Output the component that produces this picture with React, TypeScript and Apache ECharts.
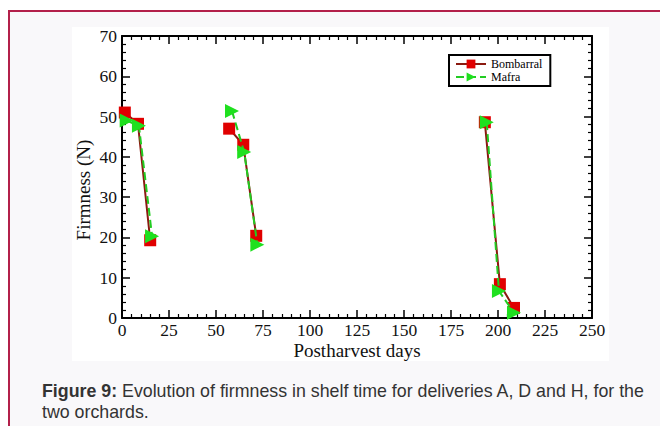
import React, { useEffect, useRef } from "react";
import * as echarts from "echarts";

const xTicks = { min: 0, max: 250, interval: 25 };
const yTicks = { min: 0, max: 70, interval: 10 };

const bombarralDays = [
  [1.5, 8.5, 15],
  [57, 64.5, 71.4],
  [193, 201, 208.5],
];
const bombarralFirmness = [
  [51, 48.2, 19.3],
  [47, 43, 20.4],
  [48.6, 8.4, 2.5],
];
const mafraDays = [
  [2.5, 9, 16],
  [58.5, 65, 72],
  [194, 200.5, 208.5],
];
const mafraFirmness = [
  [49, 47.7, 20.3],
  [51.4, 41.2, 18.2],
  [48.6, 6.7, 1.3],
];

const SERIF = "Liberation Serif";

function pairs(xs: number[], ys: number[]) {
  return xs.map((x, i) => [x, ys[i]]);
}

export default function App() {
  const ref = useRef<HTMLDivElement>(null);
  useEffect(() => {
    if (!ref.current) return;
    const chart = echarts.init(ref.current, null, { renderer: "svg" });
    const axisCommon = {
      axisLine: { show: true, onZero: false, lineStyle: { color: "#000", width: 2 } },
      axisTick: { show: true, inside: true, length: 8, lineStyle: { color: "#000", width: 1.5 } },
      minorTick: { show: true, splitNumber: 5, length: 4, lineStyle: { color: "#000", width: 1.2 } },
      splitLine: { show: false },
    };
    const labelStyle = { fontFamily: SERIF, fontSize: 17.5, color: "#111" };
    const series: any[] = [];
    bombarralDays.forEach((d, g) => {
      series.push({
        name: "Bombarral",
        type: "line",
        data: pairs(d, bombarralFirmness[g]),
        symbol: "rect",
        symbolSize: 12,
        itemStyle: { color: "#e00000" },
        lineStyle: { color: "#8b1a10", width: 2 },
        z: 2,
      });
    });
    mafraDays.forEach((d, g) => {
      series.push({
        name: "Mafra",
        type: "line",
        data: pairs(d, mafraFirmness[g]),
        symbol: "triangle",
        symbolRotate: -90,
        symbolSize: 14,
        itemStyle: { color: "#1fe01f" },
        lineStyle: { color: "#22cc22", width: 2, type: "dashed" },
        z: 3,
      });
    });
    chart.setOption({
      animation: false,
      textStyle: { fontFamily: SERIF },
      grid: { left: 122, top: 36, right: 68, bottom: 108, containLabel: false },
      legend: {
        data: ["Bombarral", "Mafra"],
        orient: "vertical",
        left: 449,
        top: 55,
        backgroundColor: "#fff",
        borderColor: "#000",
        borderWidth: 2,
        borderRadius: 0,
        padding: [3, 8, 3, 6],
        itemGap: 1,
        itemWidth: 30,
        itemHeight: 11,
        textStyle: { fontFamily: SERIF, fontSize: 12, color: "#000" },
      },
      xAxis: [
        {
          type: "value",
          ...xTicks,
          position: "bottom",
          ...axisCommon,
          axisLabel: { ...labelStyle, margin: 3 },
        },
        {
          type: "value",
          ...xTicks,
          position: "top",
          ...axisCommon,
          axisLabel: { show: false },
        },
      ],
      yAxis: [
        {
          type: "value",
          ...yTicks,
          position: "left",
          ...axisCommon,
          axisLabel: { ...labelStyle, margin: 5 },
        },
        {
          type: "value",
          ...yTicks,
          position: "right",
          ...axisCommon,
          axisLabel: { show: false },
        },
      ],
      graphic: [
        {
          type: "text",
          x: 83,
          y: 190,
          rotation: Math.PI / 2,
          style: {
            text: "Firmness (N)",
            font: `19px ${SERIF}`,
            fill: "#111",
            align: "center",
            verticalAlign: "middle",
          },
        },
        {
          type: "text",
          x: 357,
          y: 350,
          style: {
            text: "Postharvest days",
            font: `19px ${SERIF}`,
            fill: "#111",
            align: "center",
            verticalAlign: "middle",
          },
        },
      ],
      series,
    });
    return () => chart.dispose();
  }, []);

  return (
    <div
      style={{
        position: "fixed",
        left: 0,
        top: 0,
        width: 660,
        height: 426,
        background: "#fff",
        overflow: "hidden",
      }}
    >
      <div
        style={{
          position: "absolute",
          left: 8,
          top: 10,
          width: 700,
          height: 500,
          borderTop: "2px solid #b3204a",
          borderLeft: "2px solid #b3204a",
          background: "#f9f8fa",
        }}
      />
      <div
        style={{
          position: "absolute",
          left: 72,
          top: 27,
          width: 537,
          height: 334,
          background: "#fff",
        }}
      />
      <div ref={ref} style={{ position: "absolute", left: 0, top: 0, width: 660, height: 426 }} />
      <div
        style={{
          position: "absolute",
          left: 42,
          top: 381,
          fontFamily: "'Liberation Sans', Arial, sans-serif",
          fontSize: 17.8,
          lineHeight: "21px",
          color: "#333",
          whiteSpace: "nowrap",
        }}
      >
        <b>Figure 9:</b> Evolution of firmness in shelf time for deliveries A, D and H, for the
        <br />
        two orchards.
      </div>
    </div>
  );
}
